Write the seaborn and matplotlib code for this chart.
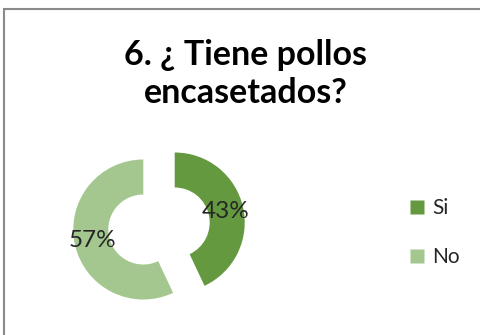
import matplotlib
matplotlib.use("Agg")
import matplotlib.pyplot as plt
from matplotlib.lines import Line2D
from matplotlib.patches import Rectangle
import seaborn as sns

# Survey answers
categories = ["Si", "No"]
percentages = [43, 57]
title_text = "6. ¿ Tiene pollos\nencasetados?"

colors = ["#64993f", "#a3c78e"]

sns.set_theme(style="white")
plt.rcParams["font.family"] = ["Lato", "DejaVu Sans"]

W, H = 480, 335
fig = plt.figure(figsize=(W / 100, H / 100), dpi=100)
fig.patch.set_facecolor("white")

# Chart-area frame
fig.add_artist(Rectangle((4 / W, -0.1), 2.0, (H - 9) / H + 0.1,
                         transform=fig.transFigure, fill=False,
                         edgecolor="#8a8a8a", linewidth=1.5))

# Donut: centre at (159, 226) px from top-left, outer radius 70 px
R = 70
cx, cy = 159, H - 226
half = 1.4 * R
ax = fig.add_axes([(cx - half) / W, (cy - half) / H, 2 * half / W, 2 * half / H])
wedges, texts, autotexts = ax.pie(
    percentages,
    colors=colors,
    startangle=90,
    counterclock=False,
    explode=[0.23, 0.23],
    autopct="%.0f%%",
    pctdistance=0.75,
    wedgeprops=dict(width=0.5, edgecolor="none"),
    textprops=dict(fontsize=17.5, color="#262626"),
)
ax.set_xlim(-1.4, 1.4)
ax.set_ylim(-1.4, 1.4)
ax.set_aspect("equal")
ax.axis("off")

fig.text(246 / W, 1 - 39 / H, title_text, ha="center", va="top",
         fontsize=24.5, fontweight="bold", color="black", linespacing=1.22)

handles = [Line2D([], [], linestyle="none", marker="s", markersize=9.5,
                  markerfacecolor=c, markeredgecolor="none") for c in colors]
fig.legend(handles, categories, loc="center left",
           bbox_to_anchor=(410 / W, (H - 232.5) / H),
           frameon=False, fontsize=15, handlelength=0.7, handletextpad=0.35,
           labelspacing=1.4, borderpad=0, borderaxespad=0,
           labelcolor="#262626")

fig.savefig("out.png", dpi=100, facecolor="white")
